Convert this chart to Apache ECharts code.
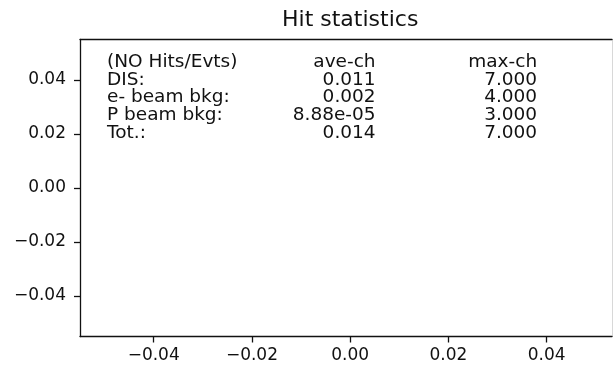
<!DOCTYPE html>
<html>
<head>
<meta charset="utf-8">
<script src="https://cdn.jsdelivr.net/npm/echarts@6/dist/echarts.min.js"></script>
<style>
  html, body { margin: 0; padding: 0; background: #fff; }
  #chart { width: 613px; height: 365px; }
</style>
</head>
<body>
<div id="chart"></div>
<script>
// Axes limits (full frame) and the part of x that fits in the page
const xLimits = [-0.055, 0.055];
const yLimits = [-0.055, 0.055];
const xVisibleMax = 0.0533;
const xTicks = [-0.04, -0.02, 0.00, 0.02, 0.04];
const yTicks = [-0.04, -0.02, 0.00, 0.02, 0.04];

// Hit statistics table
const titleText = 'Hit statistics';
const rowLabels = ['(NO Hits/Evts)', 'DIS:', 'e- beam bkg:', 'P beam bkg:', 'Tot.:'];
const columnHeaders = ['ave-ch', 'max-ch'];
const aveCh = [0.011, 0.002, 8.88e-05, 0.014];
const maxCh = [7.000, 4.000, 3.000, 7.000];

const FONT = '"DejaVu Sans", sans-serif';
const INK = '#111';

function tickFmt(v) {
  return v.toFixed(2).replace('-', '\u2212');
}
function sciFmt(v) {
  if (v !== 0 && Math.abs(v) < 1e-3) {
    const [m, e] = v.toExponential(2).split('e');
    const sign = e[0] === '-' ? '-' : '+';
    const digits = e.replace(/^[+-]/, '').padStart(2, '0');
    return m + 'e' + sign + digits;
  }
  return v.toFixed(3);
}

const chart = echarts.init(document.getElementById('chart'), null, { renderer: 'canvas' });

const spine = { show: true, onZero: false, lineStyle: { color: INK, width: 1.3 } };
const tickStyle = { color: INK, width: 1.3 };
const labelStyle = { color: INK, fontFamily: FONT, fontSize: 17, formatter: tickFmt };

chart.setOption({
  animation: false,
  backgroundColor: '#fff',
  grid: { left: 80, top: 39.5, right: 1, bottom: 28.5, show: false },
  xAxis: [{
    type: 'value', position: 'bottom',
    min: xLimits[0], max: xVisibleMax,
    splitLine: { show: false },
    axisLine: spine,
    axisTick: { show: true, length: 6, customValues: xTicks, lineStyle: tickStyle },
    axisLabel: Object.assign({ customValues: xTicks, margin: 11 }, labelStyle)
  }, {
    // top frame edge
    type: 'value', position: 'top',
    min: xLimits[0], max: xVisibleMax,
    splitLine: { show: false },
    axisLine: spine, axisTick: { show: false }, axisLabel: { show: false }
  }],
  yAxis: [{
    type: 'value', position: 'left',
    min: yLimits[0], max: yLimits[1],
    splitLine: { show: false },
    axisLine: spine,
    axisTick: { show: true, length: 6, customValues: yTicks, lineStyle: tickStyle },
    axisLabel: Object.assign({ customValues: yTicks, margin: 14 }, labelStyle)
  }, {
    // faint right edge where the frame is clipped
    type: 'value', position: 'right',
    min: yLimits[0], max: yLimits[1],
    splitLine: { show: false },
    axisLine: { show: true, onZero: false, lineStyle: { color: '#d8d8d8', width: 1 } },
    axisTick: { show: false }, axisLabel: { show: false }
  }],
  series: [{ type: 'scatter', data: [], xAxisIndex: 0, yAxisIndex: 0 }]
});

// Place the title and the text table in axes-fraction coordinates
function axesPoint(fx, fy) {
  const x = xLimits[0] + fx * (xLimits[1] - xLimits[0]);
  const y = yLimits[0] + fy * (yLimits[1] - yLimits[0]);
  return chart.convertToPixel({ xAxisIndex: 0, yAxisIndex: 0 }, [x, y]);
}

const topCenter = axesPoint(0.5, 1);
const colLeft = axesPoint(0.05, 1)[0];
const colAve = axesPoint(0.547, 1)[0];
const colMax = axesPoint(0.846, 1)[0];
const firstTop = topCenter[1] + 13;
const lineStep = 17.7;
const tableFont = 18.5;

const graphics = [{
  type: 'text',
  x: topCenter[0],
  y: topCenter[1] - 30.5,
  style: {
    text: titleText, fill: INK, font: '22px ' + FONT,
    align: 'center', verticalAlign: 'top'
  }
}];

function cell(text, x, row, align) {
  graphics.push({
    type: 'text', x: x, y: firstTop + row * lineStep,
    style: {
      text: text, fill: INK, font: tableFont + 'px ' + FONT,
      align: align, verticalAlign: 'top'
    }
  });
}

rowLabels.forEach((label, i) => cell(label, colLeft, i, 'left'));
cell(columnHeaders[0], colAve, 0, 'right');
cell(columnHeaders[1], colMax, 0, 'right');
aveCh.forEach((v, i) => cell(sciFmt(v), colAve, i + 1, 'right'));
maxCh.forEach((v, i) => cell(v.toFixed(3), colMax, i + 1, 'right'));

chart.setOption({ graphic: graphics });
</script>
</body>
</html>
